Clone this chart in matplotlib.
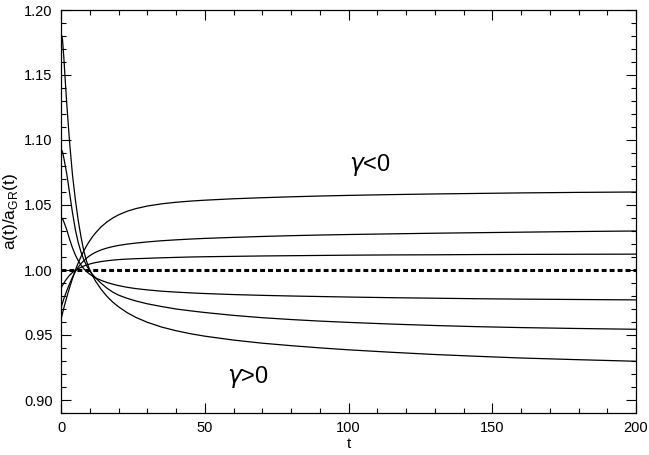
import matplotlib
matplotlib.use("Agg")
import matplotlib.pyplot as plt
from matplotlib.ticker import MultipleLocator, FormatStrFormatter

plt.rcParams['font.family'] = ['Liberation Sans', 'DejaVu Sans']

# sample times
t = [0, 0.5, 1, 1.5, 2, 3, 4, 5, 6, 7, 8, 9, 10, 11, 12, 14, 16, 18, 20, 23, 26,
     30, 35, 40, 45, 50, 60, 70, 80, 90, 100, 115, 130, 145, 160, 180, 200]

# gamma < 0 curves (start low, saturate above 1)
neg_a = [0.962, 0.9665, 0.971, 0.975, 0.979, 0.9865, 0.9935, 1.0000, 1.0055, 1.0105,
         1.0150, 1.0190, 1.0225, 1.0257, 1.0285, 1.0333, 1.0370, 1.0400, 1.0424,
         1.0452, 1.0472, 1.0492, 1.0509, 1.0521, 1.0530, 1.0537, 1.0548, 1.0556,
         1.0563, 1.0569, 1.0574, 1.0580, 1.0585, 1.0589, 1.0593, 1.0597, 1.0600]
neg_b = [0.971, 0.9745, 0.978, 0.981, 0.984, 0.9895, 0.9945, 0.9988, 1.0022, 1.0050,
         1.0073, 1.0093, 1.0110, 1.0124, 1.0136, 1.0155, 1.0169, 1.0180, 1.0189,
         1.0199, 1.0207, 1.0216, 1.0225, 1.0232, 1.0238, 1.0243, 1.0251, 1.0258,
         1.0264, 1.0269, 1.0273, 1.0278, 1.0283, 1.0287, 1.0291, 1.0296, 1.0300]
neg_c = [0.986, 0.988, 0.990, 0.9917, 0.9933, 0.9960, 0.9981, 0.9997, 1.0010, 1.0021,
         1.0031, 1.0039, 1.0046, 1.0052, 1.0057, 1.0065, 1.0071, 1.0076, 1.0080,
         1.0084, 1.0087, 1.0090, 1.0094, 1.0097, 1.0100, 1.0102, 1.0105, 1.0108,
         1.0110, 1.0112, 1.0114, 1.0116, 1.0117, 1.0119, 1.0120, 1.0121, 1.0122]

# gamma > 0 curves (start high, saturate below 1)
pos_d = [1.182, 1.178, 1.163, 1.145, 1.128, 1.098, 1.073, 1.054, 1.038, 1.025,
         1.014, 1.006, 1.000, 0.9955, 0.9915, 0.9850, 0.9797, 0.9753, 0.9717,
         0.9672, 0.9636, 0.9598, 0.9561, 0.9533, 0.9510, 0.9491, 0.9461, 0.9437,
         0.9418, 0.9401, 0.9386, 0.9367, 0.9350, 0.9336, 0.9323, 0.9310, 0.9298]
pos_e = [1.093, 1.091, 1.086, 1.080, 1.074, 1.059, 1.044, 1.031, 1.021, 1.0135,
         1.0075, 1.0030, 0.9995, 0.9965, 0.9940, 0.9897, 0.9860, 0.9830, 0.9807,
         0.9782, 0.9762, 0.9740, 0.9719, 0.9700, 0.9686, 0.9673, 0.9651, 0.9633,
         0.9619, 0.9607, 0.9597, 0.9584, 0.9573, 0.9564, 0.9557, 0.9550, 0.9544]
pos_f = [1.040, 1.0395, 1.037, 1.034, 1.031, 1.0235, 1.0170, 1.0115, 1.0071, 1.0036,
         1.0008, 0.9986, 0.9968, 0.9953, 0.9940, 0.9920, 0.9904, 0.9891, 0.9880,
         0.9867, 0.9857, 0.9847, 0.9837, 0.9830, 0.9824, 0.9819, 0.9811, 0.9805,
         0.9800, 0.9796, 0.9792, 0.9787, 0.9783, 0.9779, 0.9776, 0.9773, 0.9770]

gr_t = [0, 200]
gr_ratio = [1.0, 1.0]

fig = plt.figure(figsize=(6.49, 4.55), dpi=100)
ax = fig.add_axes([61/649, 1 - 413/455, 575/649, 403/455])

for y in (neg_a, neg_b, neg_c, pos_d, pos_e, pos_f):
    ax.plot(t, y, color='black', lw=0.9)
ax.plot(gr_t, gr_ratio, color='black', lw=2.2, linestyle=(0, (1.6, 1.0)))

ax.set_xlim(0, 200)
ax.set_ylim(0.89, 1.20)
ax.xaxis.set_major_locator(MultipleLocator(50))
ax.xaxis.set_minor_locator(MultipleLocator(10))
ax.yaxis.set_major_locator(MultipleLocator(0.05))
ax.yaxis.set_minor_locator(MultipleLocator(0.01))
ax.yaxis.set_major_formatter(FormatStrFormatter('%.2f'))
ax.tick_params(which='both', direction='in', top=True, right=True,
               labelsize=10.5, width=0.8)
ax.tick_params(which='major', length=7, pad=6)
ax.tick_params(which='minor', length=3.5)
for s in ax.spines.values():
    s.set_linewidth(0.9)

ax.set_xlabel('t', fontsize=11, labelpad=1)
ax.set_ylabel(r'a(t)/a$_{\mathregular{GR}}$(t)', fontsize=12.5, labelpad=3)

ax.text(107.5, 1.081, r'$\gamma$<0', fontsize=17, ha='center', va='center')
ax.text(65, 0.918, r'$\gamma$>0', fontsize=17, ha='center', va='center')

fig.savefig('out.png', dpi=100)
